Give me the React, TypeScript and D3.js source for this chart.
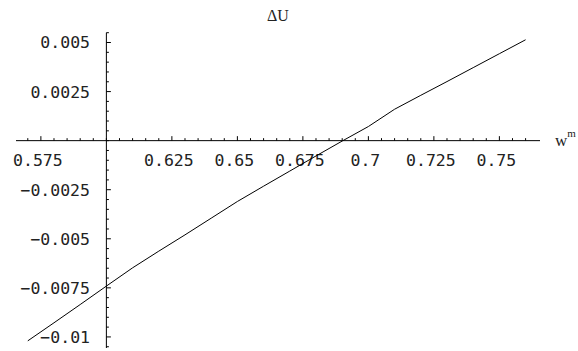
import React from 'react'
import {scaleLinear, line, range} from 'd3'

const wValues = [0.57, 0.58, 0.59, 0.6, 0.61, 0.62, 0.63, 0.64, 0.65, 0.66, 0.67, 0.68, 0.69, 0.7, 0.71, 0.72, 0.73, 0.74, 0.75, 0.76]
const dUValues = [-0.0102, -0.00928, -0.00835, -0.00741, -0.00648, -0.00563, -0.0048, -0.00395, -0.0031, -0.00232, -0.00155, -0.00078, -0.00002, 0.00072, 0.0016, 0.00231, 0.00301, 0.00372, 0.00443, 0.00514]

const xTickValues = [0.575, 0.625, 0.65, 0.675, 0.7, 0.725, 0.75]
const xTickLabels = ['0.575', '0.625', '0.65', '0.675', '0.7', '0.725', '0.75']
const yTickValues = [-0.01, -0.0075, -0.005, -0.0025, 0.0025, 0.005]
const yTickLabels = ['\u22120.01', '\u22120.0075', '\u22120.005', '\u22120.0025', '0.0025', '0.005']

const title = '\u0394U'

export default function App() {
  const width = 578
  const height = 351

  const x = scaleLinear().domain([0.5655, 0.7655]).range([16, 540])
  const y = scaleLinear().domain([-0.0106, 0.0055]).range([348.7, 32.7])

  const x0 = x(0.6)
  const y0 = y(0)

  // minor ticks every 0.005 on x, every 0.0005 on y
  const xMinor = range(114, 154).map(i => i * 0.005).filter(v => v > 0.566 && v < 0.765)
  const yMinor = range(-21, 12).map(i => i * 0.0005)

  const path = line<number>()
    .x((d, i) => x(wValues[i]))
    .y(d => y(d))(dUValues)

  const mono = '"DejaVu Sans Mono", monospace'
  const serif = '"Liberation Serif", "Times New Roman", serif'

  return (
    <svg
      width={width}
      height={height}
      style={{position: 'absolute', left: 0, top: 0, background: '#fff'}}
    >
      <rect width={width} height={height} fill="#fff" />

      {/* axes */}
      <line x1={16} x2={540} y1={y0} y2={y0} stroke="#000" strokeWidth={1} />
      <line x1={x0} x2={x0} y1={32.7} y2={348} stroke="#000" strokeWidth={1} />

      {/* x ticks, pointing up */}
      {xMinor.map((v, i) => {
        const major = xTickValues.some(t => Math.abs(t - v) < 1e-9)
        return (
          <line key={'xm' + i} x1={x(v)} x2={x(v)} y1={y0} y2={y0 - (major ? 4.5 : 2.5)} stroke="#000" strokeWidth={1} />
        )
      })}
      {xTickValues.map((v, i) => (
        <text key={'xl' + i} x={x(v) - 3} y={y0 + 25} textAnchor="middle" fontFamily={mono} fontSize={16.5} fill="#222">
          {xTickLabels[i]}
        </text>
      ))}

      {/* y ticks, pointing right */}
      {yMinor.map((v, i) => {
        const major = yTickValues.some(t => Math.abs(t - v) < 1e-9)
        return (
          <line key={'ym' + i} x1={x0} x2={x0 + (major ? 4.5 : 2.5)} y1={y(v)} y2={y(v)} stroke="#000" strokeWidth={1} />
        )
      })}
      {yTickValues.map((v, i) => (
        <text key={'yl' + i} x={90} y={y(v)} dy="0.36em" textAnchor="end" fontFamily={mono} fontSize={16.5} fill="#222">
          {yTickLabels[i]}
        </text>
      ))}

      {/* the curve */}
      <path d={path || ''} fill="none" stroke="#000" strokeWidth={1} />

      {/* labels */}
      <text x={278} y={21} textAnchor="middle" fontFamily={serif} fontSize={16} fill="#222">
        {title}
      </text>
      <text x={555} y={146} fontFamily={serif} fontSize={17} fill="#222">
        w
        <tspan dy={-9} fontSize={11}>m</tspan>
      </text>
    </svg>
  )
}
